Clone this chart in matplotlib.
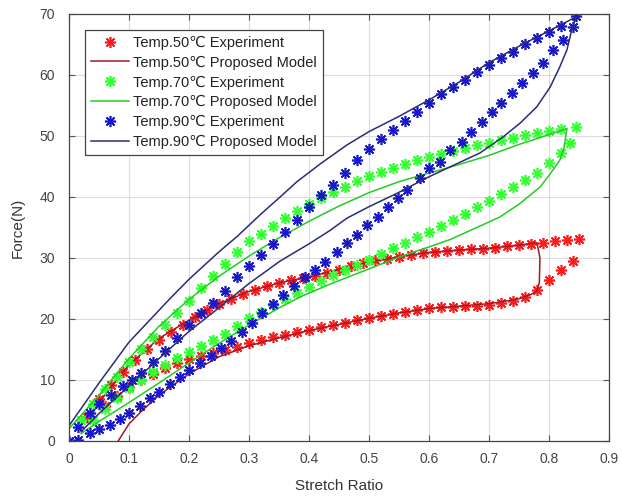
import matplotlib

matplotlib.use("Agg")

import matplotlib.pyplot as plt

plt.rcParams["font.family"] = ["Liberation Sans", "DejaVu Sans"]

# experiment data: loading (up) and unloading (down) branches
t50_up_x = [0.03, 0.05, 0.07, 0.09, 0.11, 0.13, 0.15, 0.17, 0.19, 0.21, 0.23, 0.25, 0.27, 0.29,
            0.31, 0.33, 0.35, 0.37, 0.39, 0.41, 0.43, 0.45, 0.47, 0.49, 0.51, 0.53, 0.55, 0.57,
            0.59, 0.61, 0.63, 0.65, 0.67, 0.69, 0.71, 0.73, 0.75, 0.77, 0.79, 0.81, 0.83, 0.85]
t50_up_f = [4, 6.8, 9.2, 11.3, 13.2, 15, 16.5, 17.8, 19, 20.3, 21.4, 22.4, 23.3, 24.1,
            24.8, 25.4, 25.9, 26.3, 26.7, 27.1, 27.6, 28.1, 28.6, 29.1, 29.6, 29.9, 30.2, 30.5,
            30.8, 31, 31.2, 31.3, 31.4, 31.5, 31.7, 31.9, 32.1, 32.3, 32.5, 32.7, 32.9, 33.1]
t50_dn_x = [0.84, 0.82, 0.80, 0.78, 0.76, 0.74, 0.72, 0.70, 0.68, 0.66, 0.64, 0.62, 0.60, 0.58,
            0.56, 0.54, 0.52, 0.50, 0.48, 0.46, 0.44, 0.42, 0.40, 0.38, 0.36, 0.34, 0.32, 0.30,
            0.28, 0.26, 0.24, 0.22, 0.20, 0.18, 0.16, 0.14, 0.12, 0.10, 0.08, 0.06]
t50_dn_f = [29.5, 28, 26.4, 24.8, 23.6, 23, 22.6, 22.3, 22.2, 22.1, 22, 21.9, 21.8, 21.5,
            21.1, 20.8, 20.5, 20.2, 19.8, 19.4, 19, 18.6, 18.2, 17.8, 17.4, 17, 16.5, 16,
            15.4, 14.9, 14.4, 13.9, 13.4, 12.7, 11.9, 11, 10, 8.8, 7.4, 5.8]

t70_up_x = [0.02, 0.04, 0.06, 0.08, 0.10, 0.12, 0.14, 0.16, 0.18, 0.20, 0.22, 0.24, 0.26, 0.28,
            0.30, 0.32, 0.34, 0.36, 0.38, 0.40, 0.42, 0.44, 0.46, 0.48, 0.50, 0.52, 0.54, 0.56,
            0.58, 0.60, 0.62, 0.64, 0.66, 0.68, 0.70, 0.72, 0.74, 0.76, 0.78, 0.80, 0.82, 0.845]
t70_up_f = [3.5, 6, 8.5, 10.5, 13, 15, 17, 19, 21, 23, 25, 27, 29, 31,
            32.7, 34, 35.3, 36.5, 37.7, 38.8, 39.8, 40.8, 41.7, 42.6, 43.4, 44.1, 44.8, 45.4,
            46, 46.5, 47, 47.5, 48, 48.5, 48.9, 49.3, 49.7, 50.1, 50.5, 50.8, 51.1, 51.5]
t70_dn_x = [0.835, 0.82, 0.80, 0.78, 0.76, 0.74, 0.72, 0.70, 0.68, 0.66, 0.64, 0.62, 0.60, 0.58,
            0.56, 0.54, 0.52, 0.50, 0.48, 0.46, 0.44, 0.42, 0.40, 0.38, 0.36, 0.34, 0.32, 0.30,
            0.28, 0.26, 0.24, 0.22, 0.20, 0.18, 0.16, 0.14, 0.12, 0.10, 0.08, 0.06, 0.04]
t70_dn_f = [48.8, 47.2, 45.5, 44, 42.8, 41.7, 40.5, 39.4, 38.3, 37.2, 36.2, 35.2, 34.3, 33.5,
            32.5, 31.6, 30.7, 29.7, 28.8, 28, 27.2, 26.2, 25.3, 24.3, 23.3, 22.3, 21.2, 20.1,
            18.8, 17.6, 16.5, 15.5, 14.6, 13.6, 12.5, 11.3, 10, 8.6, 7, 5.3, 3.5]

t90_up_x = [0.0, 0.015, 0.035, 0.05, 0.07, 0.09, 0.105, 0.12, 0.14, 0.16, 0.18, 0.20, 0.22, 0.24,
            0.26, 0.28, 0.30, 0.32, 0.34, 0.36, 0.38, 0.40, 0.42, 0.44, 0.46, 0.48, 0.50, 0.52,
            0.54, 0.56, 0.58, 0.60, 0.62, 0.64, 0.66, 0.68, 0.70, 0.72, 0.74, 0.76, 0.78, 0.80,
            0.82, 0.845]
t90_up_f = [0, 2.3, 4.6, 6, 7.5, 9, 10, 11.2, 13, 14.8, 16.8, 19, 21, 22.6,
            24.5, 26.8, 28.6, 30.5, 32.3, 34.2, 36.2, 38.4, 40.3, 42, 44, 46, 47.8, 49.5,
            51, 52.4, 54, 55.4, 56.8, 58, 59.2, 60.4, 61.6, 62.7, 63.8, 65, 66, 67,
            68, 69.6]
t90_dn_x = [0.84, 0.823, 0.807, 0.79, 0.773, 0.755, 0.738, 0.72, 0.705, 0.688, 0.67, 0.655,
            0.635, 0.618, 0.60, 0.585, 0.563, 0.548, 0.532, 0.515, 0.497, 0.48, 0.463, 0.447,
            0.427, 0.41, 0.393, 0.375, 0.357, 0.34, 0.322, 0.305, 0.288, 0.27, 0.253, 0.236,
            0.218, 0.20, 0.185, 0.168, 0.15, 0.135, 0.118, 0.10, 0.085, 0.068, 0.05, 0.035,
            0.015]
t90_dn_f = [67.9, 65.7, 64, 62, 60.3, 58.7, 57, 55.4, 54, 52.3, 50.7, 49,
            47.7, 45.7, 44.8, 43.1, 41.1, 39.8, 38.4, 36.7, 35.4, 33.8, 32.5, 31,
            29.3, 28, 26.9, 25.4, 23.9, 22.4, 20.9, 19.4, 17.9, 16.4, 15.2, 14,
            12.8, 11.6, 10.5, 9.3, 8.1, 7, 5.8, 4.6, 3.6, 2.6, 1.9, 1.3,
            0.2]

# proposed model curves (one path per temperature)
m50_x = [0.03, 0.05, 0.1, 0.15, 0.2, 0.25, 0.3, 0.35, 0.4, 0.45, 0.5, 0.55, 0.6, 0.65, 0.7,
         0.75, 0.78, 0.785, 0.784, 0.78, 0.77, 0.75, 0.72, 0.7, 0.65, 0.6, 0.55, 0.5, 0.45,
         0.4, 0.35, 0.3, 0.25, 0.2, 0.15, 0.12, 0.1, 0.082]
m50_f = [3, 6.3, 12.5, 16.8, 19.8, 22.5, 24.5, 25.9, 26.9, 28.1, 29.3, 30.2, 30.9, 31.3, 31.6,
         32.1, 32.5, 30, 26, 24.6, 24, 23.3, 22.8, 22.5, 22.1, 21.7, 21, 20.1, 19.1,
         18.1, 16.9, 15.6, 13.8, 11, 7.5, 4.8, 2.8, 0]
m70_x = [0.0, 0.05, 0.1, 0.15, 0.2, 0.25, 0.3, 0.35, 0.4, 0.45, 0.5, 0.55, 0.6, 0.65, 0.7,
         0.75, 0.8, 0.83, 0.825, 0.818, 0.8, 0.785, 0.75, 0.718, 0.68, 0.635, 0.6, 0.552, 0.5,
         0.44, 0.385, 0.35, 0.3, 0.25, 0.2, 0.15, 0.1, 0.05, 0.02]
m70_f = [2, 7.5, 13.5, 18.8, 23.2, 27, 30.3, 33.3, 36, 38.5, 40.7, 42.5, 43.9, 45.3, 46.8,
         48.6, 50.2, 51.2, 48, 46, 43.5, 41.6, 38.8, 36.7, 35, 33, 31.8, 30.2, 28.2,
         25.9, 23.6, 21.8, 19, 16, 12.8, 9.5, 6.3, 3.2, 1.2]
m90_x = [0.0, 0.05, 0.1, 0.168, 0.2, 0.25, 0.28, 0.32, 0.352, 0.38, 0.42, 0.463, 0.5, 0.55,
         0.6, 0.65, 0.7, 0.75, 0.8, 0.845, 0.838, 0.83, 0.818, 0.802, 0.78, 0.752, 0.723,
         0.685, 0.65, 0.6, 0.547, 0.5, 0.463, 0.435, 0.4, 0.352, 0.3, 0.252, 0.197, 0.15,
         0.1, 0.05, 0.02]
m90_f = [2.5, 9.5, 16.2, 23.3, 26.5, 31, 33.5, 37.2, 40, 42.5, 45.5, 48.5, 50.7, 53.2,
         55.9, 58.8, 62, 64.7, 67.2, 69.5, 67.4, 64.1, 61.3, 58, 54.8, 52.1, 49.8,
         47.2, 45.6, 43.3, 40.6, 38.4, 36.5, 34.5, 32.3, 29.5, 25.8, 22, 17.7, 13.5,
         9, 4.5, 1.5]

labels = ["Temp.50\u2103 Experiment", "Temp.50\u2103 Proposed Model",
          "Temp.70\u2103 Experiment", "Temp.70\u2103 Proposed Model",
          "Temp.90\u2103 Experiment", "Temp.90\u2103 Proposed Model"]

fig = plt.figure(figsize=(6.22, 4.96), dpi=100)
ax = fig.add_axes([0.111, 0.111, 0.868, 0.861])

star = (8, 2, 0)
series = [
    (t50_up_x + t50_dn_x, t50_up_f + t50_dn_f, m50_x, m50_f, "#ff1a1a", "#9b1c2a"),
    (t70_up_x + t70_dn_x, t70_up_f + t70_dn_f, m70_x, m70_f, "#33ff33", "#22cc22"),
    (t90_up_x + t90_dn_x, t90_up_f + t90_dn_f, m90_x, m90_f, "#1818c8", "#2b2b7a"),
]
for i, (ex, ef, mx, mf, ecol, mcol) in enumerate(series):
    ax.plot(ex, ef, linestyle="none", marker=star, markersize=8, markeredgewidth=1.2,
            color=ecol, label=labels[2 * i])
    ax.plot(mx, mf, color=mcol, linewidth=1.1, label=labels[2 * i + 1])

ax.set_xlim(0, 0.9)
ax.set_ylim(0, 70)
ax.set_xticks([0, 0.1, 0.2, 0.3, 0.4, 0.5, 0.6, 0.7, 0.8, 0.9])
ax.set_xticklabels(["0", "0.1", "0.2", "0.3", "0.4", "0.5", "0.6", "0.7", "0.8", "0.9"])
ax.set_yticks(range(0, 71, 10))
ax.grid(True, color="#dcdcdc", linewidth=0.8)
ax.set_axisbelow(True)
ax.tick_params(direction="in", top=True, right=True, length=4, colors="#555555",
               labelcolor="#444444", labelsize=10)
ax.tick_params(axis="x", pad=8)
ax.tick_params(axis="y", pad=10)
for sp in ax.spines.values():
    sp.set_color("#444444")
    sp.set_linewidth(0.9)

ax.set_xlabel("Stretch Ratio", fontsize=11, color="#333333", labelpad=9)
ax.set_ylabel("Force(N)", fontsize=11, color="#333333", labelpad=11)

leg = ax.legend(loc="upper left", bbox_to_anchor=(0.03, 0.963), borderaxespad=0,
                fancybox=False, framealpha=1, edgecolor="#444444", fontsize=10.5,
                handlelength=2.6, handletextpad=0.3, labelspacing=0.4, numpoints=1)
leg.get_frame().set_linewidth(0.9)
for t in leg.get_texts():
    t.set_color("#222222")

fig.savefig("out.png", dpi=100)
plt.close(fig)
